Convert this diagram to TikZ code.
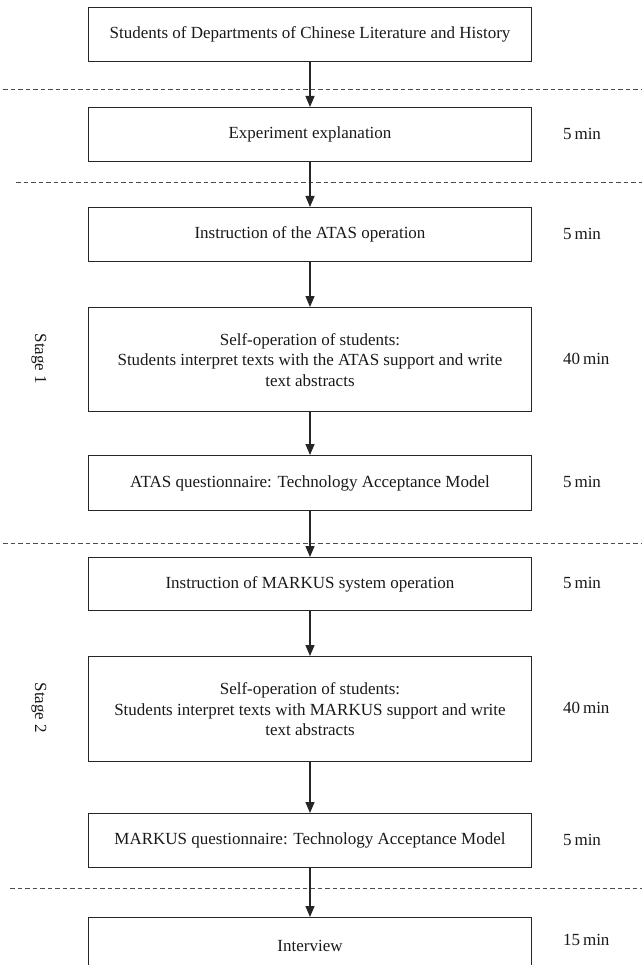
\documentclass[tikz,border=0pt]{standalone}
\usepackage{fontspec}
\setmainfont{Liberation Serif}
\usetikzlibrary{arrows.meta}
\begin{document}
\begin{tikzpicture}[x=1pt,y=-1pt,
  box/.style={draw=black!85, line width=1.3pt, minimum width=443pt, anchor=north,
    align=center, inner sep=0pt, font=\fontsize{17}{20.5}\selectfont, text=black!90},
  flow/.style={draw=black!85, line width=1.3pt, -{Triangle[length=11pt,width=9pt]}},
  sep/.style={draw=black!70, line width=0.8pt, dash pattern=on 4.5pt off 3pt},
  dur/.style={anchor=west, inner sep=0pt, font=\fontsize{17}{20.5}\selectfont, text=black!90},
  stagelbl/.style={rotate=-90, inner sep=0pt, font=\fontsize{17}{20.5}\selectfont, text=black!90}]
\useasboundingbox (0,0) rectangle (642,965);
\clip (0,0) rectangle (642,965);

% boxes
\node[box, minimum height=54pt] (b1) at (310,7) {Students of Departments of Chinese Literature and History};
\node[box, minimum height=54pt] (b2) at (310,107) {Experiment explanation};
\node[box, minimum height=54pt] (b3) at (310,207) {Instruction of the ATAS operation};
\node[box, minimum height=104pt] (b4) at (310,307) {Self-operation of students:\\Students interpret texts with the ATAS support and write\\text abstracts};
\node[box, minimum height=55pt] (b5) at (310,455) {ATAS questionnaire: Technology Acceptance Model};
\node[box, minimum height=53pt] (b6) at (310,557) {Instruction of MARKUS system operation};
\node[box, minimum height=105pt] (b7) at (310,656) {Self-operation of students:\\Students interpret texts with MARKUS support and write\\text abstracts};
\node[box, minimum height=54pt] (b8) at (310,813) {MARKUS questionnaire: Technology Acceptance Model};
\node[box, minimum height=56pt] (b9) at (310,917) {Interview};

% separators
\draw[sep] (3,89) -- (642,89);
\draw[sep] (16,182) -- (642,182);
\draw[sep] (3,543) -- (642,543);
\draw[sep] (10,888) -- (642,888);

% arrows
\draw[flow] (b1.south) -- (b2.north);
\draw[flow] (b2.south) -- (b3.north);
\draw[flow] (b3.south) -- (b4.north);
\draw[flow] (b4.south) -- (b5.north);
\draw[flow] (b5.south) -- (b6.north);
\draw[flow] (b6.south) -- (b7.north);
\draw[flow] (b7.south) -- (b8.north);
\draw[flow] (b8.south) -- (b9.north);

% durations
\node[dur] (d2) at (563,134) {5\,min};
\node[dur] (d3) at (563,234) {5\,min};
\node[dur] (d4) at (563,359) {40\,min};
\node[dur] (d5) at (563,482) {5\,min};
\node[dur] (d6) at (563,583) {5\,min};
\node[dur] (d7) at (563,708) {40\,min};
\node[dur] (d8) at (563,840) {5\,min};
\node[dur] (d9) at (563,940) {15\,min};

% stage labels
\node[stagelbl] (s1) at (39,359) {Stage 1};
\node[stagelbl] (s2) at (39,708) {Stage 2};
\end{tikzpicture}
\end{document}
